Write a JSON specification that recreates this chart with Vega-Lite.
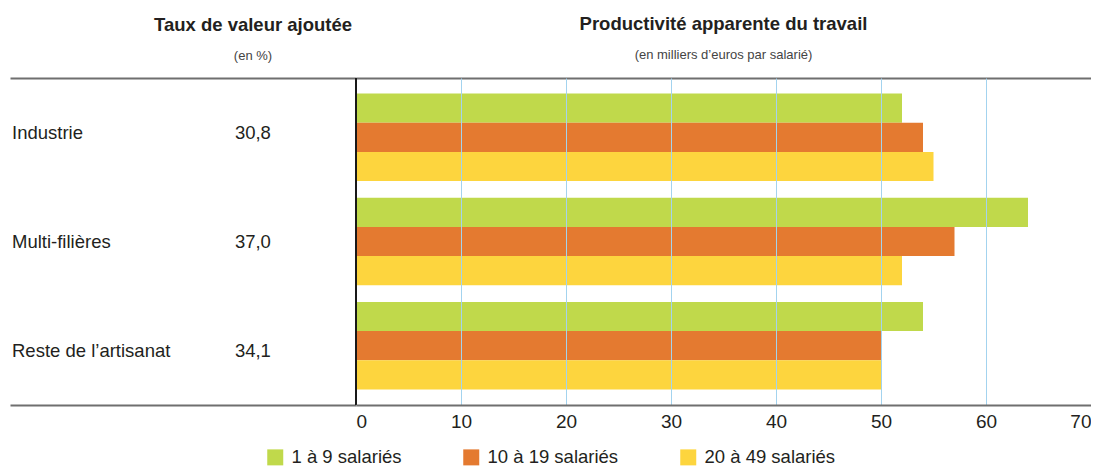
{
  "$schema": "https://vega.github.io/schema/vega-lite/v6.json",
  "background": "white",
  "padding": {"left": 10, "top": 15, "right": 0, "bottom": 0},
  "autosize": {"type": "pad"},
  "bounds": "flush",
  "spacing": 0,
  "datasets": {
    "taux": [
      {"secteur": "Industrie", "taux": 30.8},
      {"secteur": "Multi-filières", "taux": 37.0},
      {"secteur": "Reste de l’artisanat", "taux": 34.1}
    ],
    "prod": [
      {"secteur": "Industrie", "taille": "1 à 9 salariés", "valeur": 52},
      {"secteur": "Industrie", "taille": "10 à 19 salariés", "valeur": 54},
      {"secteur": "Industrie", "taille": "20 à 49 salariés", "valeur": 55},
      {"secteur": "Multi-filières", "taille": "1 à 9 salariés", "valeur": 64},
      {"secteur": "Multi-filières", "taille": "10 à 19 salariés", "valeur": 57},
      {"secteur": "Multi-filières", "taille": "20 à 49 salariés", "valeur": 52},
      {"secteur": "Reste de l’artisanat", "taille": "1 à 9 salariés", "valeur": 54},
      {"secteur": "Reste de l’artisanat", "taille": "10 à 19 salariés", "valeur": 50},
      {"secteur": "Reste de l’artisanat", "taille": "20 à 49 salariés", "valeur": 50}
    ]
  },
  "hconcat": [
    {
      "width": 346,
      "height": 327,
      "data": {"name": "taux"},
      "title": {
        "text": "Taux de valeur ajoutée",
        "subtitle": "(en %)",
        "anchor": "middle",
        "dx": 70
      },
      "encoding": {
        "y": {
          "field": "secteur",
          "type": "nominal",
          "sort": ["Industrie", "Multi-filières", "Reste de l’artisanat"],
          "scale": {"paddingInner": 0.16, "paddingOuter": 0.15},
          "axis": null
        }
      },
      "layer": [
        {
          "mark": {"type": "text", "align": "left", "baseline": "middle", "dx": 2, "fontSize": 18.5},
          "encoding": {
            "x": {
              "datum": 0,
              "type": "quantitative",
              "scale": {"domain": [0, 1], "nice": false, "zero": false},
              "axis": {"orient": "bottom", "labels": false, "ticks": false, "grid": false, "domain": true, "domainColor": "#6f6f6f", "domainWidth": 2, "title": null}
            },
            "text": {"field": "secteur"}
          }
        },
        {
          "mark": {"type": "text", "align": "center", "baseline": "middle", "fontSize": 18.5},
          "encoding": {
            "x": {
              "datum": 0.702,
              "type": "quantitative",
              "axis": {"orient": "top", "labels": false, "ticks": false, "grid": false, "domain": true, "domainColor": "#6f6f6f", "domainWidth": 2, "title": null}
            },
            "text": {"field": "taux", "type": "quantitative", "format": ".1f"}
          }
        }
      ],
      "resolve": {"axis": {"x": "independent"}}
    },
    {
      "width": 735,
      "height": 327,
      "data": {"name": "prod"},
      "title": {
        "text": "Productivité apparente du travail",
        "subtitle": "(en milliers d’euros par salarié)",
        "anchor": "middle"
      },
      "layer": [
        {
          "mark": {"type": "bar"},
          "encoding": {
            "y": {
              "field": "secteur",
              "type": "nominal",
              "sort": ["Industrie", "Multi-filières", "Reste de l’artisanat"],
              "scale": {"paddingInner": 0.16, "paddingOuter": 0.15},
              "axis": null
            },
            "yOffset": {
              "field": "taille",
              "type": "nominal",
              "sort": ["1 à 9 salariés", "10 à 19 salariés", "20 à 49 salariés"],
              "scale": {"paddingInner": 0, "paddingOuter": 0}
            },
            "x": {
              "field": "valeur",
              "type": "quantitative",
              "scale": {"domain": [0, 70], "nice": false},
              "axis": {
                "orient": "bottom",
                "values": [0, 10, 20, 30, 40, 50, 60, 70],
                "grid": true,
                "gridColor": "#a3d3ef",
                "gridWidth": 1,
                "gridOpacity": {"condition": {"test": "datum.value === 0", "value": 0}, "value": 1},
                "ticks": false,
                "domainColor": "#6f6f6f",
                "domainWidth": 2,
                "labelFontSize": 19,
                "labelPadding": 7,
                "labelColor": "#231f20",
                "title": null,
                "zindex": 1
              }
            },
            "color": {
              "field": "taille",
              "type": "nominal",
              "sort": ["1 à 9 salariés", "10 à 19 salariés", "20 à 49 salariés"],
              "scale": {
                "domain": ["1 à 9 salariés", "10 à 19 salariés", "20 à 49 salariés"],
                "range": ["#c0d94b", "#e47a30", "#fdd53e"]
              },
              "legend": {
                "orient": "none",
                "legendX": 256,
                "legendY": 370,
                "direction": "horizontal",
                "title": null,
                "symbolType": "square",
                "symbolSize": 256,
                "symbolStrokeWidth": 0,
                "symbolOpacity": 1,
                "labelFontSize": 18.5,
                "labelColor": "#231f20",
                "labelOffset": 7,
                "columnPadding": 60
              }
            }
          }
        },
        {
          "mark": {"type": "rule", "color": "#1a1a1a", "strokeWidth": 1.5},
          "encoding": {
            "x": {
              "datum": 0,
              "type": "quantitative",
              "axis": {"orient": "top", "labels": false, "ticks": false, "grid": false, "domain": true, "domainColor": "#6f6f6f", "domainWidth": 2, "title": null}
            }
          }
        }
      ],
      "resolve": {"axis": {"x": "independent"}}
    }
  ],
  "config": {
    "font": "Liberation Sans, Arial, sans-serif",
    "locale": {"number": {"decimal": ",", "thousands": " ", "grouping": [3], "currency": ["", " €"]}},
    "view": {"stroke": null},
    "text": {"color": "#231f20"},
    "title": {
      "fontSize": 18.5,
      "fontWeight": "bold",
      "color": "#231f20",
      "subtitleFontSize": 13,
      "subtitleColor": "#444444",
      "subtitlePadding": 15.5,
      "offset": 15
    }
  }
}
